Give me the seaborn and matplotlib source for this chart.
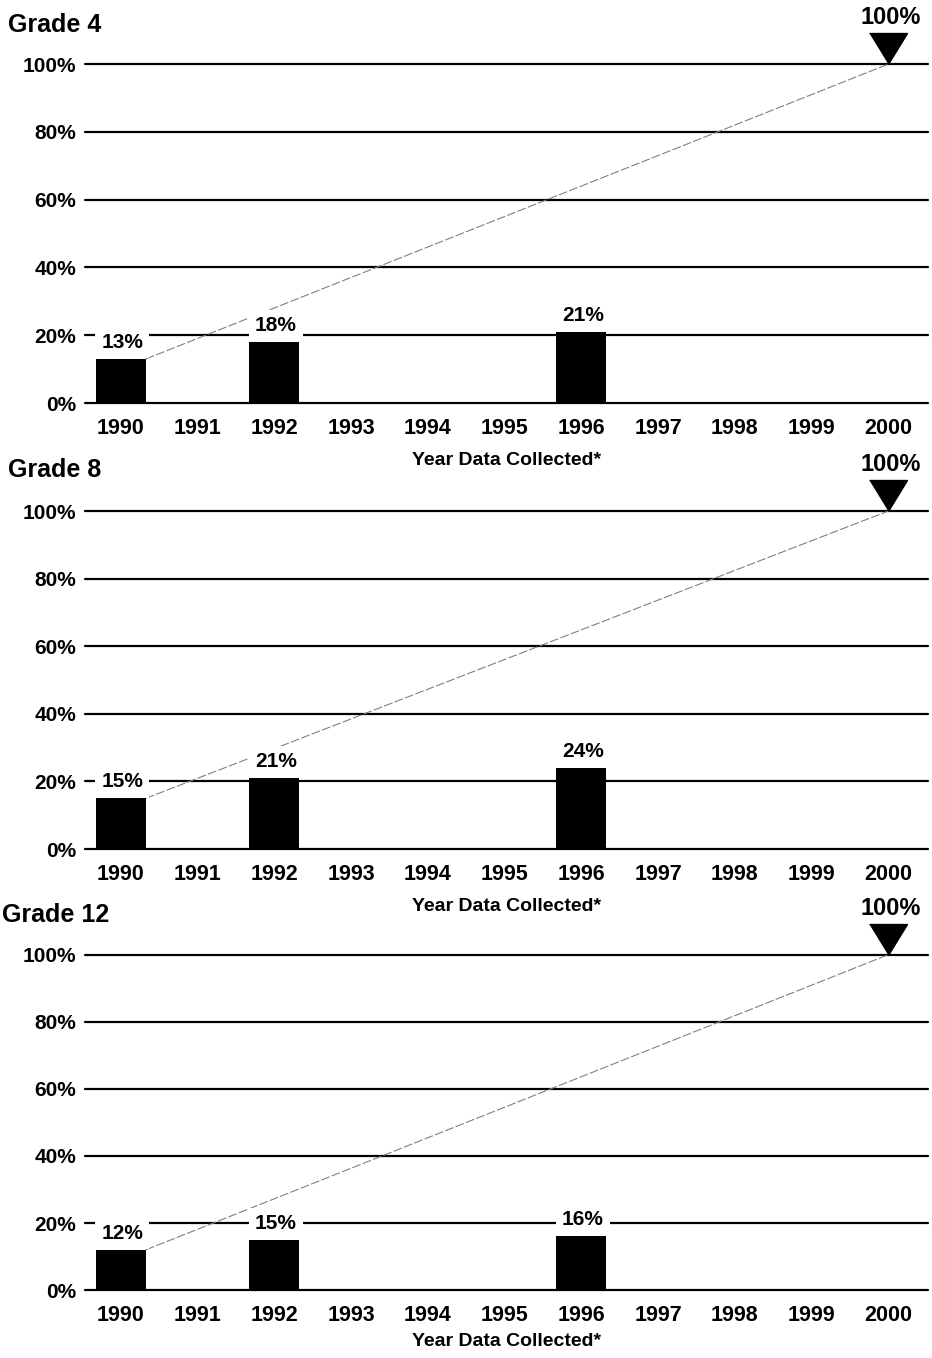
import matplotlib
matplotlib.use("Agg")
import matplotlib.pyplot as plt
import seaborn as sns
import pandas as pd

# values
grades = ["Grade 4", "Grade 8", "Grade 12"]
years = [str(y) for y in range(1990, 2001)]
data_years = ["1990", "1992", "1996"]
pct_grade4 = [13, 18, 21]
pct_grade8 = [15, 21, 24]
pct_grade12 = [12, 15, 16]
goal_year = "2000"
goal_pct = 100
yticks = [0, 20, 40, 60, 80, 100]

sns.set_theme(style="white")
plt.rcParams['font.family'] = ['Liberation Sans', 'DejaVu Sans']
plt.rcParams['font.weight'] = 'bold'
for k in ['text.color', 'axes.labelcolor', 'xtick.color', 'ytick.color']:
    plt.rcParams[k] = 'black'

fig = plt.figure(figsize=(9.32, 13.58), dpi=100)

# axes boxes in figure fraction (left, bottom, width, height)
boxes = [(0.091, 0.7032, 0.905, 0.2496),
         (0.091, 0.3748, 0.905, 0.2489),
         (0.091, 0.0500, 0.905, 0.2470)]
title_pos = [(0.009, 1 - 25 / 1358), (0.009, 1 - 470 / 1358), (0.002, 1 - 915 / 1358)]
all_pct = [pct_grade4, pct_grade8, pct_grade12]
label_pads = [9, 9, 5]

bar_w = 0.65
# triangle marker whose tip sits on the data point
tri = [(-19, 31), (19, 31), (0, 0)]

for grade, pct, box, tpos, lp in zip(grades, all_pct, boxes, title_pos, label_pads):
    df = pd.DataFrame({"year": data_years, "pct": pct})
    ax = fig.add_axes(box)
    sns.barplot(data=df, x="year", y="pct", order=years, color="black",
                saturation=1, width=bar_w, errorbar=None, ax=ax, zorder=3,
                linewidth=0)

    for t in yticks:
        ax.axhline(t, color="black", lw=1.6, zorder=1, clip_on=False)

    # line from the 1990 value to the goal
    x0 = years.index(data_years[0]) + bar_w / 2
    x1 = years.index(goal_year)
    ax.plot([x0, x1], [pct[0], goal_pct], color="0.5", lw=0.8, zorder=2,
            ls=(0, (8, 2)))

    ax.plot([x1], [goal_pct], marker=tri, markersize=44.6, color="black",
            clip_on=False, zorder=5)
    ax.annotate(f"{goal_pct}%", (x1, goal_pct), xytext=(2, 25),
                textcoords="offset points", ha="center", va="bottom",
                fontsize=17, fontweight="bold", annotation_clip=False)

    for yr, v in zip(data_years, pct):
        ax.annotate(f"{v}%", (years.index(yr), v), xytext=(1, 5),
                    textcoords="offset points", ha="center", va="bottom",
                    fontsize=15, fontweight="bold", zorder=6,
                    bbox=dict(boxstyle="square,pad=0.3", fc="white", ec="none"))

    ax.set_xlim(-0.47, 10.52)
    ax.set_ylim(0, 100)
    ax.set_yticks(yticks)
    ax.set_yticklabels([f"{t}%" for t in yticks], fontsize=15, fontweight="bold")
    ax.set_xticks(range(len(years)))
    ax.set_xticklabels(years, fontsize=15.5, fontweight="bold")
    ax.tick_params(axis="x", length=0, pad=11)
    ax.tick_params(axis="y", length=0, pad=6)
    ax.set_xlabel("Year Data Collected*", fontsize=14, fontweight="bold", labelpad=lp)
    ax.set_ylabel("")
    sns.despine(ax=ax, left=True, bottom=True)

    fig.text(tpos[0], tpos[1], grade, fontsize=18, fontweight="bold", va="center", ha="left")

fig.savefig("out.png", dpi=100)
